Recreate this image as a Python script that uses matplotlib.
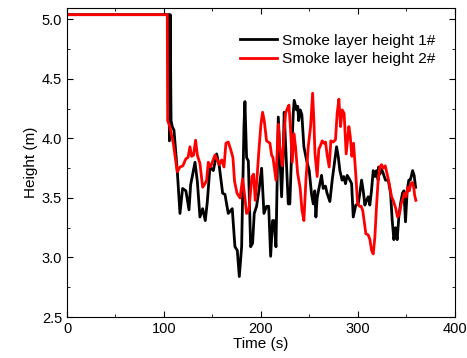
import matplotlib.pyplot as plt
from matplotlib.ticker import MultipleLocator

plt.rcParams['font.family'] = ['Liberation Sans', 'DejaVu Sans']

# black: smoke layer height 1#
t1 = [0, 105.0, 105.6, 106.4, 107.3, 108.5, 110.3, 113.7, 116.5, 119.2, 122.6, 124.0,
      125.8, 127.5, 132.0, 134.4, 137.1, 139.9, 142.6, 144.6, 147.4, 150.9, 154.3,
      157.0, 160.5, 162.9, 166.3, 170.4, 173.2, 175.6, 177.7, 180.1, 182.5, 183.5,
      185.2, 187.0, 189.4, 191.4, 193.1, 195.5, 197.9, 200.7, 203.1, 205.8, 208.0,
      210.0, 212.0, 213.5, 215.5, 217.9, 219.6, 221.3, 223.0, 224.0, 225.8, 228.2,
      229.8, 231.3, 233.3, 234.3, 236.7, 238.0, 238.9, 240.5, 242.2, 244.3, 247.0,
      249.8, 252.2, 254.0, 255.5, 256.7, 258.0, 259.8, 262.5, 264.2, 266.5, 268.2,
      271.1, 273.5, 276.3, 278.0, 279.7, 281.4, 283.7, 285.4, 287.2, 289.0, 291.8,
      293.5, 295.2, 297.8, 300.3, 302.0, 303.8, 305.5, 307.2, 308.9, 310.6, 312.3,
      314.0, 315.8, 317.5, 319.2, 320.9, 321.3, 322.6, 324.4, 326.0, 328.4, 331.3,
      333.7, 335.4, 337.1, 338.8, 340.5, 342.2, 343.9, 346.0, 347.4, 349.1, 350.8,
      352.5, 354.0, 355.0, 356.4, 358.0, 359.5]
h1 = [5.04, 5.04, 3.98, 5.04, 4.15, 4.10, 4.07, 3.73, 3.37, 3.58, 3.56, 3.49,
      3.40, 3.61, 3.80, 3.64, 3.34, 3.41, 3.31, 3.46, 3.76, 3.73, 3.87,
      3.77, 3.54, 3.53, 3.37, 3.41, 3.09, 3.06, 2.84, 3.09, 4.10, 4.31,
      3.84, 3.81, 3.09, 3.12, 3.37, 3.43, 3.56, 3.75, 3.37, 3.43, 3.43,
      3.01, 3.31, 3.31, 3.09, 4.18, 3.85, 3.51, 3.88, 4.22, 3.88, 3.45,
      3.45, 3.80, 4.21, 4.32, 4.24, 4.27, 4.15, 4.24, 4.20, 3.93, 3.82,
      3.73, 3.53, 3.45, 3.56, 3.34, 3.50, 3.58, 3.69, 3.58, 3.60, 3.54,
      3.47, 3.65, 3.82, 3.93, 3.85, 3.73, 3.65, 3.68, 3.62, 3.69, 3.65,
      3.62, 3.34, 3.44, 3.45, 3.54, 3.65, 3.56, 3.44, 3.48, 3.51, 3.44,
      3.56, 3.73, 3.68, 3.73, 3.65, 3.76, 3.70, 3.74, 3.71, 3.65, 3.65,
      3.54, 3.31, 3.15, 3.25, 3.15, 3.34, 3.45, 3.54, 3.56, 3.30, 3.56,
      3.65, 3.65, 3.68, 3.73, 3.69, 3.59]

# red: smoke layer height 2#
t2 = [0, 103.4, 103.8, 106.0, 109.6, 113.7, 116.5, 119.5, 122.6, 124.8, 126.8, 128.5,
      130.5, 132.6, 134.4, 137.1, 139.9, 142.3, 144.0, 145.7, 148.1, 150.2, 152.6,
      155.0, 157.0, 159.5, 161.9, 163.9, 166.3, 168.7, 171.1, 172.8, 175.3, 178.4,
      181.1, 182.8, 185.2, 187.6, 190.7, 192.4, 194.1, 195.8, 197.9, 200.0, 201.7,
      203.4, 205.8, 209.3, 211.0, 212.4, 215.5, 217.9, 219.6, 222.0, 223.7, 225.4,
      227.1, 228.9, 230.6, 232.3, 234.0, 235.7, 237.8, 240.5, 242.3, 244.3, 246.4,
      248.8, 251.2, 253.3, 254.6, 255.7, 258.0, 259.7, 261.4, 263.2, 264.9, 266.6,
      268.3, 270.4, 272.1, 274.5, 276.9, 278.6, 280.4, 282.1, 283.8, 285.8, 287.9,
      290.7, 292.1, 293.8, 295.5, 297.8, 299.7, 301.7, 303.4, 305.1, 308.2, 310.6,
      312.4, 314.1, 315.8, 317.5, 319.2, 320.9, 322.6, 324.4, 326.1, 328.2, 330.2,
      332.3, 334.7, 336.4, 339.1, 340.9, 343.0, 344.6, 346.3, 348.0, 349.7, 351.5,
      353.0, 354.6, 356.3, 357.6, 358.6, 359.8]
h2 = [5.04, 5.04, 4.15, 4.10, 3.96, 3.72, 3.76, 3.77, 3.83, 3.84, 3.93, 3.85,
      3.86, 3.985, 3.86, 3.79, 3.59, 3.62, 3.65, 3.80, 3.76, 3.81, 3.86,
      3.82, 3.78, 3.82, 3.76, 3.96, 3.97, 3.91, 3.84, 3.64, 3.54, 3.50,
      3.66, 3.55, 3.37, 3.40, 3.68, 3.70, 3.48, 3.65, 3.90, 4.12, 4.22,
      4.15, 3.98, 3.96, 3.86, 3.84, 3.65, 4.12, 3.92, 3.77, 4.02, 4.21,
      4.25, 4.28, 4.07, 3.80, 4.04, 3.93, 3.71, 3.58, 3.40, 3.31, 3.65,
      3.93, 4.10, 4.38, 4.15, 3.88, 3.68, 3.91, 3.94, 3.98, 3.96, 3.97,
      3.86, 3.76, 3.98, 3.97, 3.99, 4.21, 4.33, 4.10, 4.24, 4.21, 3.87,
      4.10, 4.02, 3.85, 3.96, 3.70, 3.45, 3.43, 3.43, 3.39, 3.20, 3.19,
      3.15, 3.06, 3.03, 3.17, 3.43, 3.65, 3.76, 3.78, 3.75, 3.77, 3.70,
      3.62, 3.51, 3.48, 3.41, 3.34, 3.37, 3.45, 3.49, 3.54, 3.51, 3.59,
      3.56, 3.62, 3.63, 3.59, 3.52, 3.48]

fig, ax = plt.subplots(figsize=(4.67, 3.58), dpi=100)
fig.subplots_adjust(left=0.1435, right=0.974, top=0.979, bottom=0.1145)

ax.plot(t1, h1, color='black', lw=2.0, label='Smoke layer height 1#')
ax.plot(t2, h2, color='#ff0000', lw=2.0, label='Smoke layer height 2#')

ax.set_xlim(0, 400)
ax.set_ylim(2.5, 5.1)
ax.xaxis.set_major_locator(MultipleLocator(100))
ax.xaxis.set_minor_locator(MultipleLocator(50))
ax.yaxis.set_major_locator(MultipleLocator(0.5))
ax.yaxis.set_minor_locator(MultipleLocator(0.25))
ax.tick_params(which='both', direction='in', top=True, right=True, labelsize=10.5)
ax.tick_params(which='major', length=4)
ax.tick_params(which='minor', length=2.5)
ax.yaxis.set_major_formatter(plt.FormatStrFormatter('%.1f'))

ax.set_xlabel('Time (s)', fontsize=11, labelpad=1)
ax.set_ylabel('Height (m)', fontsize=11, labelpad=3)

ax.legend(loc='upper right', bbox_to_anchor=(0.985, 0.96), frameon=False, fontsize=11.1,
          handlelength=2.4, handletextpad=0.35, labelspacing=0.28)

fig.savefig('out.png', dpi=100)
